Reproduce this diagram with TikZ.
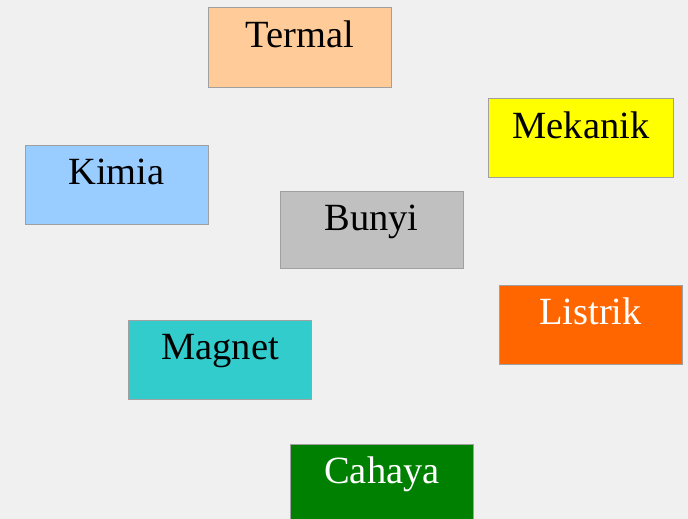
\documentclass[tikz,border=0pt]{standalone}
\usepackage{fontspec}
\setmainfont{Liberation Serif}
\definecolor{bg}{HTML}{F0F0F0}
\definecolor{edge}{HTML}{A0A0A0}
\definecolor{termal}{HTML}{FFCC99}
\definecolor{mekanik}{HTML}{FFFF00}
\definecolor{kimia}{HTML}{99CCFF}
\definecolor{bunyi}{HTML}{C0C0C0}
\definecolor{listrik}{HTML}{FF6600}
\definecolor{magnet}{HTML}{33CCCC}
\definecolor{cahaya}{HTML}{008000}
\begin{document}
\begin{tikzpicture}[x=1pt,y=-1pt,
  box/.style={draw=edge,line width=1pt,rectangle,inner sep=0pt,minimum width=183pt,minimum height=79pt},
  lbl/.style={anchor=base,font=\fontsize{38.5}{42}\selectfont,inner sep=0pt}]
\fill[bg] (0,0) rectangle (688,519);
\useasboundingbox (0,0) rectangle (688,519);
\node[box,fill=termal] (t) at (299.5,47.5) {};
\node[lbl] (tl) at ([yshift=-40pt]t.north) {Termal};
\node[box,fill=mekanik,minimum width=185pt] (m) at (581,138) {};
\node[lbl] (ml) at ([yshift=-40pt]m.north) {Mekanik};
\node[box,fill=kimia] (k) at (116.5,184.5) {};
\node[lbl] (kl) at ([yshift=-40pt]k.north) {Kimia};
\node[box,fill=bunyi,minimum height=77pt] (b) at (371.5,229.5) {};
\node[lbl] (bl) at ([yshift=-40pt]b.north) {Bunyi};
\node[box,fill=listrik] (l) at (590.5,324.5) {};
\node[lbl,text=white] (ll) at ([yshift=-40pt]l.north) {Listrik};
\node[box,fill=magnet] (g) at (220,359.5) {};
\node[lbl] (gl) at ([yshift=-40pt]g.north) {Magnet};
\node[box,fill=cahaya] (c) at (382,483.5) {};
\node[lbl,text=white] (cl) at ([yshift=-40pt]c.north) {Cahaya};
\end{tikzpicture}
\end{document}
